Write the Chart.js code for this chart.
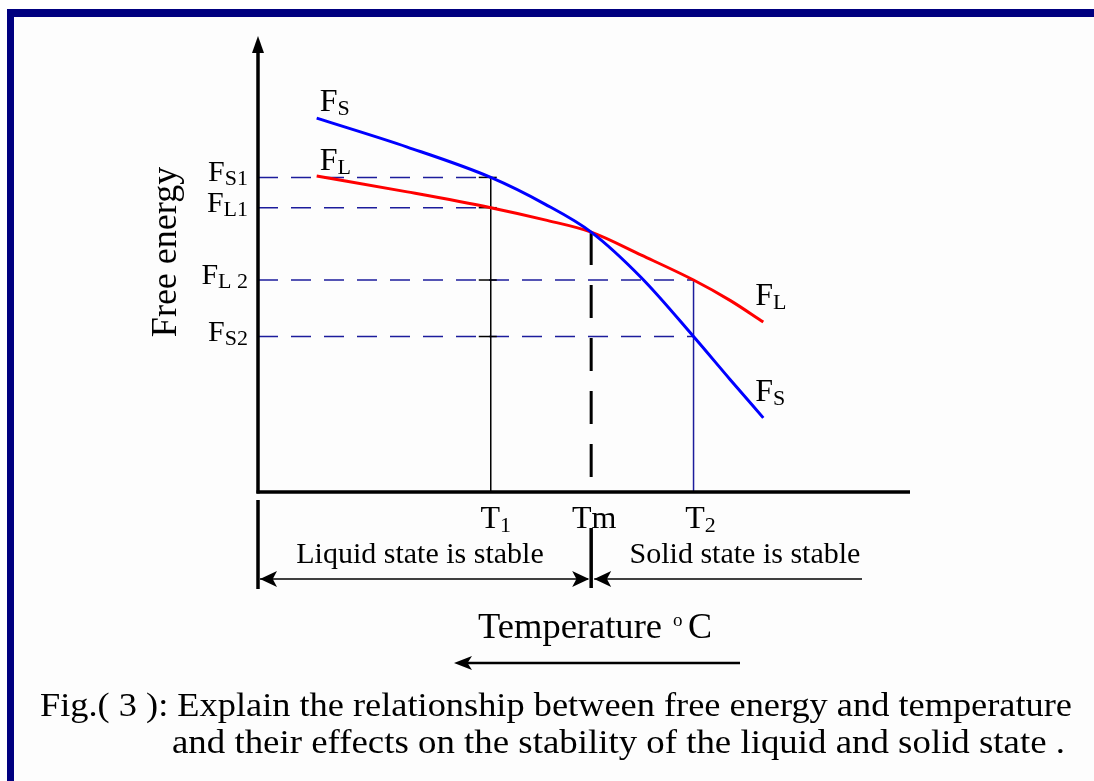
<!DOCTYPE html>
<html>
<head>
<meta charset="utf-8">
<script src="https://cdn.jsdelivr.net/npm/chart.js@4.4.1/dist/chart.umd.min.js"></script>
<style>
  body { margin: 0; background: #ffffff; }
  #wrap { position: absolute; left: 0; top: 0; width: 1094px; height: 781px; }
  #frame {
    position: absolute; left: 7px; top: 9px; right: 0; bottom: 0;
    border-top: 8px solid #000080; border-left: 7px solid #000080;
    background: #fdfdfd;
  }
</style>
</head>
<body>
<div id="frame"></div>
<div id="wrap"><canvas id="chart"></canvas></div>
<script>
// temperature (arbitrary units, 0..100) and free energy (arbitrary units, 0..100)
const tempX = [9, 22.9, 35.7, 44, 51.1, 58.8, 66.8, 72.4, 77.5];
const freeS = [82.7, 76.3, 69.6, 63.7, 57.5, 47.4, 34.4, 24.9, 16.4];
const freeL = [69.9, 66.4, 62.9, 60.2, 57.5, 52.4, 46.9, 42.4, 37.6];

// reference temperatures and energies
const tempMarks = [35.7, 51.1, 66.8];
const tempLabels = [['T', '1'], ['Tm', ''], ['T', '2']];
const energyMarks = [69.6, 62.9, 46.9, 34.4];
const energyLabels = [['F', 'S1'], ['F', 'L1'], ['F', 'L 2'], ['F', 'S2']];
const energyEnds = [35.7, 35.7, 66.8, 66.8];

const SERIF = '"Liberation Serif", "Times New Roman", serif';
const NAVY = '#1c1c9c';

function pts(xs, ys) {
    return xs.map((x, i) => ({ x: x, y: ys[i] }))
}

function subText(ctx, main, sub, x, y, align, size, subSize) {
    ctx.font = size + 'px ' + SERIF
    const w1 = ctx.measureText(main).width
    ctx.font = subSize + 'px ' + SERIF
    const w2 = ctx.measureText(sub).width
    let x0 = x
    if (align === 'right') x0 = x - w1 - w2
    if (align === 'center') x0 = x - (w1 + w2) / 2
    ctx.textAlign = 'left'
    ctx.textBaseline = 'alphabetic'
    ctx.font = size + 'px ' + SERIF
    ctx.fillText(main, x0, y)
    ctx.font = subSize + 'px ' + SERIF
    ctx.fillText(sub, x0 + w1, y + 4)
}

// text stretched to a given width
function fitText(ctx, text, x, y, width) {
    const w = ctx.measureText(text).width
    ctx.save()
    ctx.translate(x, y)
    ctx.scale(width / w, 1)
    ctx.textAlign = 'left'
    ctx.fillText(text, 0, 0)
    ctx.restore()
}

function arrowHead(ctx, x, y, dir, len, half) {
    ctx.beginPath()
    ctx.moveTo(x, y)
    ctx.lineTo(x - dir * len, y - half)
    ctx.lineTo(x - dir * len * 0.75, y)
    ctx.lineTo(x - dir * len, y + half)
    ctx.closePath()
    ctx.fill()
}

function line(ctx, x1, y1, x2, y2) {
    ctx.beginPath()
    ctx.moveTo(x1, y1)
    ctx.lineTo(x2, y2)
    ctx.stroke()
}

const guides = {
    id: 'guides',
    beforeDatasetsDraw(chart) {
        const ctx = chart.ctx
        const xs = chart.scales.x, ys = chart.scales.y
        const x0 = xs.getPixelForValue(0), y0 = ys.getPixelForValue(0)
        ctx.save()
        // horizontal dashed guides
        ctx.strokeStyle = NAVY
        ctx.lineWidth = 1.5
        ctx.setLineDash([20, 13])
        energyMarks.forEach((v, i) => {
            const py = ys.getPixelForValue(v)
            line(ctx, x0, py, xs.getPixelForValue(energyEnds[i]), py)
        })
        ctx.setLineDash([])
        // T1 thin black
        const t1 = xs.getPixelForValue(tempMarks[0])
        ctx.strokeStyle = '#000'
        ctx.lineWidth = 1.5
        line(ctx, t1, ys.getPixelForValue(energyMarks[0]), t1, y0)
        energyMarks.forEach(v => {
            const py = ys.getPixelForValue(v)
            line(ctx, t1 - 12, py, t1 + 6, py)
        })
        // T2 thin blue
        const t2 = xs.getPixelForValue(tempMarks[2])
        ctx.strokeStyle = NAVY
        line(ctx, t2, ys.getPixelForValue(energyMarks[2]), t2, y0)
        // Tm thick dashed
        const tm = xs.getPixelForValue(tempMarks[1])
        ctx.strokeStyle = '#000'
        ctx.lineWidth = 3
        ctx.setLineDash([33, 20])
        line(ctx, tm, ys.getPixelForValue(freeL[4]), tm, y0)
        ctx.restore()
    },
    afterDatasetsDraw(chart) {
        const ctx = chart.ctx
        const xs = chart.scales.x, ys = chart.scales.y
        const x0 = xs.getPixelForValue(0), y0 = ys.getPixelForValue(0)
        const yTop = ys.getPixelForValue(100)
        const xEnd = xs.getPixelForValue(100)
        ctx.save()
        ctx.fillStyle = '#000'
        ctx.strokeStyle = '#000'
        // axes
        ctx.lineWidth = 3.5
        line(ctx, x0, y0 + 1.5, x0, yTop + 6)
        line(ctx, x0 - 1.5, y0, xEnd, y0)
        ctx.beginPath()
        ctx.moveTo(x0, yTop - 4)
        ctx.lineTo(x0 - 6, yTop + 13)
        ctx.lineTo(x0 + 6, yTop + 13)
        ctx.closePath()
        ctx.fill()

        // axis tick labels
        energyMarks.forEach((v, i) => {
            subText(ctx, energyLabels[i][0], energyLabels[i][1], x0 - 10, ys.getPixelForValue(v) + 4, 'right', 30, 22)
        })
        const tOffset = [5, 3, 7]
        tempMarks.forEach((v, i) => {
            subText(ctx, tempLabels[i][0], tempLabels[i][1], xs.getPixelForValue(v) + tOffset[i], y0 + 36, 'center', 32, 22)
        })

        // curve labels
        subText(ctx, 'F', 'S', xs.getPixelForValue(tempX[0]) + 3, ys.getPixelForValue(freeS[0]) - 7, 'left', 32, 22)
        subText(ctx, 'F', 'L', xs.getPixelForValue(tempX[0]) + 3, ys.getPixelForValue(freeL[0]) - 6, 'left', 32, 22)
        subText(ctx, 'F', 'L', xs.getPixelForValue(tempX[8]) - 8, ys.getPixelForValue(freeL[8]) - 17, 'left', 32, 22)
        subText(ctx, 'F', 'S', xs.getPixelForValue(tempX[8]) - 8, ys.getPixelForValue(freeS[8]) - 17, 'left', 32, 22)

        // y axis title
        ctx.save()
        ctx.translate(176, 252)
        ctx.rotate(-Math.PI / 2)
        ctx.font = '36px ' + SERIF
        ctx.textAlign = 'center'
        ctx.textBaseline = 'alphabetic'
        ctx.fillText('Free energy', 0, 0)
        ctx.restore()

        // stability brackets
        const tm = xs.getPixelForValue(tempMarks[1])
        ctx.lineWidth = 3.5
        line(ctx, x0, y0 + 8, x0, y0 + 97)
        line(ctx, tm, y0 + 36, tm, y0 + 96)
        ctx.lineWidth = 1.5
        const ay = y0 + 87
        line(ctx, x0 + 2, ay, tm - 3, ay)
        line(ctx, tm + 3, ay, 862, ay)
        arrowHead(ctx, x0 + 2, ay, -1, 17, 8)
        arrowHead(ctx, tm - 2, ay, 1, 17, 8)
        arrowHead(ctx, tm + 3, ay, -1, 17, 8)
        ctx.font = '30px ' + SERIF
        ctx.textAlign = 'center'
        ctx.textBaseline = 'alphabetic'
        ctx.fillText('Liquid state is stable', 420, y0 + 71)
        ctx.fillText('Solid state is stable', 745, y0 + 71)

        // x axis title and arrow
        ctx.font = '36px ' + SERIF
        fitText(ctx, 'Temperature', 478, 638, 184)
        ctx.font = '19px ' + SERIF
        ctx.textAlign = 'left'
        ctx.fillText('o', 673, 626)
        ctx.font = '36px ' + SERIF
        ctx.fillText('C', 688, 638)
        ctx.lineWidth = 2.5
        line(ctx, 462, 663, 740, 663)
        arrowHead(ctx, 454, 663, -1, 18, 7)

        // caption
        ctx.font = '33px ' + SERIF
        fitText(ctx, 'Fig.( 3 ): Explain the relationship between free energy and temperature', 40, 716, 1032)
        fitText(ctx, 'and their effects on the stability of the liquid and solid state .', 172, 753, 893)
        ctx.restore()
    }
}

new Chart(document.getElementById('chart'), {
    type: 'scatter',
    data: {
        datasets: [
            {
                label: 'FS',
                data: pts(tempX, freeS),
                showLine: true,
                borderColor: '#0000ff',
                borderWidth: 3,
                pointRadius: 0,
                cubicInterpolationMode: 'monotone',
            },
            {
                label: 'FL',
                data: pts(tempX, freeL),
                showLine: true,
                borderColor: '#ff0000',
                borderWidth: 3,
                pointRadius: 0,
                cubicInterpolationMode: 'monotone',
            },
        ],
    },
    options: {
        responsive: true,
        maintainAspectRatio: false,
        animation: false,
        layout: { padding: { left: 258, top: 40, right: 184, bottom: 289 } },
        scales: {
            x: { type: 'linear', min: 0, max: 100, display: false },
            y: { type: 'linear', min: 0, max: 100, display: false },
        },
        plugins: {
            legend: { display: false },
            tooltip: { enabled: false },
        },
    },
    plugins: [guides],
})
</script>
</body>
</html>
